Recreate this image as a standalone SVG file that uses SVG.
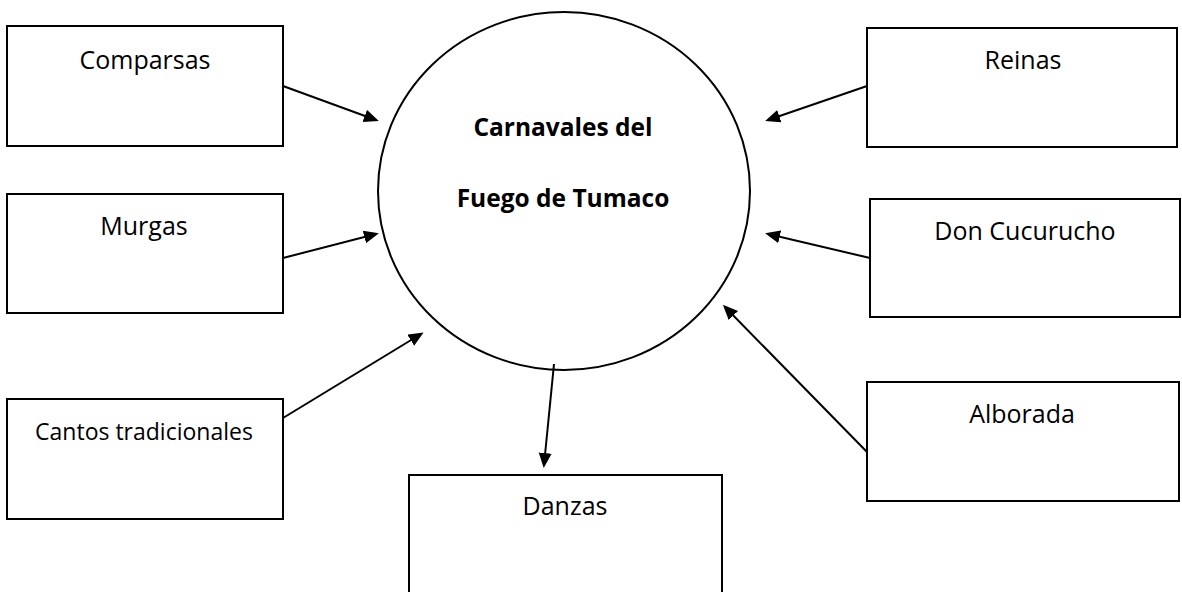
<svg xmlns="http://www.w3.org/2000/svg" width="1182" height="592" viewBox="0 0 1182 592">
  <style>
    .box { fill: #ffffff; stroke: #000000; stroke-width: 2; }
    .lbl { font-family: "Open Sans", "Liberation Sans", sans-serif; font-size: 25px; fill: #000000; text-anchor: middle; }
    .small { font-size: 23px; }
    .title { font-family: "Open Sans", "Liberation Sans", sans-serif; font-size: 24.5px; font-weight: bold; fill: #000000; text-anchor: middle; }
    .conn { stroke: #000000; stroke-width: 2; fill: none; marker-end: url(#arrow); }
  </style>
  <defs>
    <marker id="arrow" markerUnits="userSpaceOnUse" markerWidth="16" markerHeight="14" refX="12" refY="6.5" orient="auto">
      <path d="M0,0 L15,6.5 L0,13 Z" fill="#000000"/>
    </marker>
  </defs>
  <rect width="1182" height="592" fill="#ffffff"/>

  <g id="center">
    <ellipse cx="564" cy="191" rx="186" ry="179" fill="#ffffff" stroke="#000000" stroke-width="2"/>
    <text class="title" x="563" y="136">Carnavales del</text>
    <text class="title" x="563" y="207">Fuego de Tumaco</text>
  </g>

  <g id="comparsas">
    <rect class="box" x="7" y="26" width="276" height="120"/>
    <text class="lbl" x="145" y="69">Comparsas</text>
  </g>
  <g id="murgas">
    <rect class="box" x="7" y="194" width="276" height="119"/>
    <text class="lbl" x="144" y="235">Murgas</text>
  </g>
  <g id="cantos">
    <rect class="box" x="7" y="399" width="276" height="120"/>
    <text class="lbl small" x="144" y="440">Cantos tradicionales</text>
  </g>
  <g id="danzas">
    <rect class="box" x="409" y="475" width="313" height="125"/>
    <text class="lbl" x="565" y="515">Danzas</text>
  </g>
  <g id="reinas">
    <rect class="box" x="867" y="28" width="310" height="119"/>
    <text class="lbl" x="1023" y="69">Reinas</text>
  </g>
  <g id="doncucurucho">
    <rect class="box" x="870" y="199" width="310" height="118"/>
    <text class="lbl" x="1025" y="240">Don Cucurucho</text>
  </g>
  <g id="alborada">
    <rect class="box" x="867" y="382" width="312" height="119"/>
    <text class="lbl" x="1022" y="423">Alborada</text>
  </g>

  <g id="connectors">
    <line class="conn" x1="283" y1="86" x2="376" y2="120"/>
    <line class="conn" x1="283" y1="258" x2="376" y2="234"/>
    <line class="conn" x1="283" y1="418" x2="421" y2="334"/>
    <line class="conn" x1="554" y1="364" x2="544" y2="465"/>
    <line class="conn" x1="867" y1="86" x2="768" y2="120"/>
    <line class="conn" x1="870" y1="258" x2="768" y2="234"/>
    <line class="conn" x1="867" y1="452" x2="725" y2="307"/>
  </g>
</svg>
